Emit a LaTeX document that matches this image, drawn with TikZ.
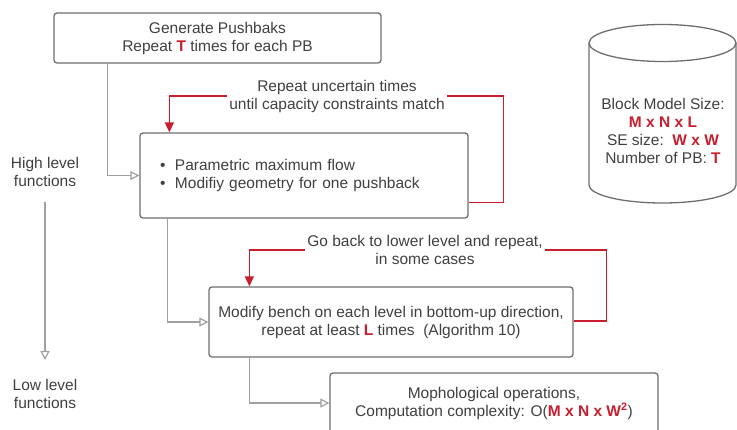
\documentclass[tikz,border=0pt]{standalone}
\usepackage{fontspec}
\setmainfont{Liberation Sans}
\usepackage{tikz}
\usetikzlibrary{arrows.meta}

\definecolor{boxgrey}{RGB}{110,110,110}
\definecolor{linegrey}{RGB}{160,160,160}
\definecolor{txtgrey}{RGB}{64,64,64}
\definecolor{loopred}{RGB}{200,30,45}
\newcommand{\redbf}[1]{\textcolor{loopred}{\textbf{#1}}}

\begin{document}
\begin{tikzpicture}[
            x=1pt, y=-1pt,
            every node/.style={text=txtgrey, font=\fontsize{15.5}{18}\selectfont},
            box/.style={draw=boxgrey, line width=1.3pt, rounded corners=3pt, fill=white, align=center, inner sep=0pt},
            note/.style={align=center, inner sep=2pt},
            flow/.style={draw=linegrey, line width=1.2pt, -{Triangle[open, width=9pt, length=9pt]}},
            loopline/.style={draw=loopred, line width=1.5pt},
            looparrow/.style={loopline, -{Triangle[width=9pt, length=10pt]}}
        ]
        \useasboundingbox (0,0) rectangle (737,430);

        % Process boxes
        \node[box, minimum width=327pt, minimum height=50pt] (B1) at (217.5,38)
            {Generate Pushbaks\\Repeat \redbf{T} times for each PB};
        \node[box, minimum width=328pt, minimum height=85pt, text width=288pt, align=left, inner xsep=20pt] (B2) at (304,175.5)
            {\makebox[15pt][l]{\textbullet}Parametric maximum flow\\
             \makebox[15pt][l]{\textbullet}Modifiy geometry for one pushback};
        \node[box, minimum width=364pt, minimum height=70pt] (B3) at (391,322)
            {Modify bench on each level in bottom-up direction,\\repeat at least \redbf{L} times\ \ (Algorithm 10)};
        \node[box, minimum width=328pt, minimum height=60pt] (B4) at (494,403)
            {Mophological operations,\\Computation complexity: O(\redbf{M x N x W\textsuperscript{2}})};

        % Data store
        \draw[boxgrey, line width=1.3pt] (589,43) -- (589,185)
            arc[start angle=180, end angle=360, x radius=73.5pt, y radius=18pt] -- (736,43);
        \draw[boxgrey, line width=1.3pt] (662.5,43) ellipse[x radius=73.5pt, y radius=18.5pt];
        \node[align=center, inner sep=0pt] (DBtxt) at (663,131)
            {Block Model Size:\\\redbf{M x N x L}\\SE size:\ \ \redbf{W x W}\\Number of PB: \redbf{T}};

        % Loop notes
        \node[note] (N1) at (337,96) {Repeat uncertain times\\until capacity constraints match};
        \node[note] (N2) at (425,250) {Go back to lower level and repeat,\\in some cases};

        % Level labels
        \node[align=center, inner sep=1pt] (HI) at (45,172) {High level\\functions};
        \node[align=center, inner sep=1pt] (LO) at (45,394) {Low level\\functions};

        % Flow between levels
        \draw[flow] ([xshift=54pt]B1.south west) |- (B2.west);
        \draw[flow] ([xshift=28pt]B2.south west) |- (B3.west);
        \draw[flow] ([xshift=41pt]B3.south west) |- (B4.west);
        \draw[flow] (HI.south |- 0,202) -- (LO.north |- 0,360);

        % Repeat loops
        \draw[loopline] ([yshift=-27pt]B2.east) -- ++(35,0) |- (N1.east);
        \draw[looparrow] (N1.west) -| ([xshift=30pt]B2.north west);
        \draw[loopline] ([yshift=1pt]B3.east) -- ++(33,0) |- (N2.east);
        \draw[looparrow] (N2.west) -| ([xshift=41pt]B3.north west);
    \end{tikzpicture}
\end{document}
